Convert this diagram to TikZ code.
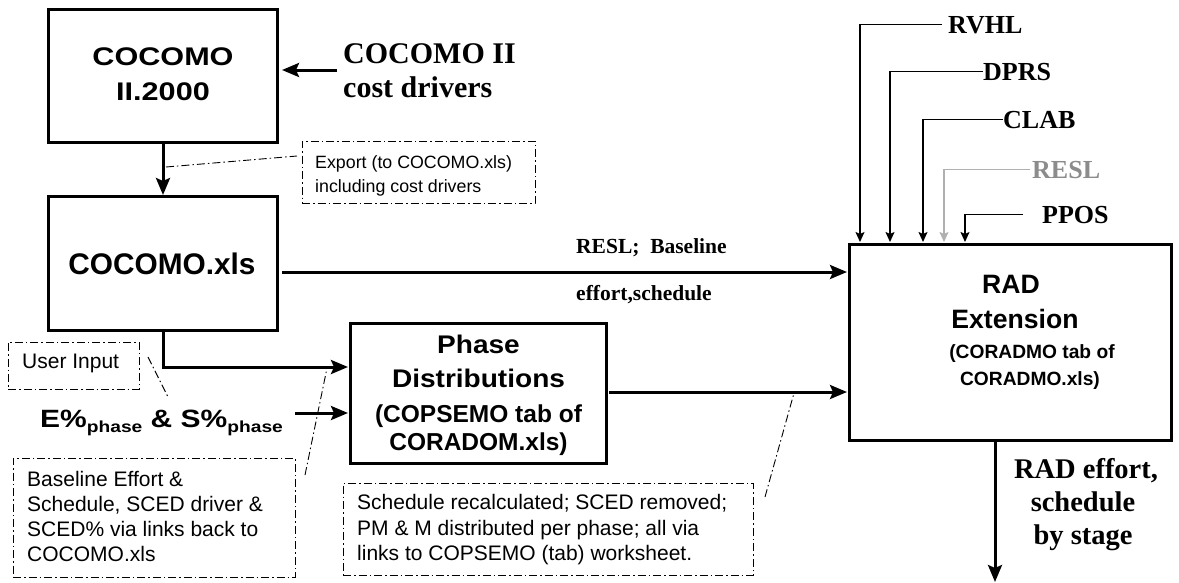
\documentclass[tikz,border=0pt]{standalone}
\usepackage{fontspec}
\setmainfont{Liberation Serif}
\newfontfamily\bxA[FakeStretch=1.2]{Liberation Sans}
\newfontfamily\bxB[FakeStretch=1.1]{Liberation Sans}
\newfontfamily\cff{Liberation Sans}
\usetikzlibrary{arrows.meta}
\newcommand{\fsz}[1]{\fontsize{#1}{#1}\selectfont}
\definecolor{lgray}{HTML}{B0B0B0}
\definecolor{tgray}{HTML}{8C8C8C}
\tikzset{
  box/.style={draw, line width=3pt, inner sep=0pt},
  bt/.style={anchor=base, inner sep=0pt, font=\cff\bfseries},
  st/.style={anchor=base west, inner sep=0pt, font=\bfseries},
  ct/.style={anchor=base west, inner sep=0pt, font=\cff\fsz{21}},
  callout/.style={draw, line width=0.9pt, dash pattern=on 8pt off 3pt on 1.5pt off 3pt, inner sep=0pt},
  lead/.style={line width=0.9pt, dash pattern=on 8pt off 3pt on 1.5pt off 3pt},
  main/.style={line width=3pt, -{Stealth[length=17pt,width=14pt,inset=3pt]}},
  feed/.style={line width=1.5pt, -{Stealth[length=10pt,width=9pt,inset=2pt]}},
}
\begin{document}
\begin{tikzpicture}[x=1pt,y=-1pt]
\useasboundingbox (0,0) rectangle (1179,582);

% boxes
\node[box, minimum width=229pt, minimum height=133pt] (c2) at (163,76) {};
\node[box, minimum width=229pt, minimum height=134pt] (cx) at (163,263.5) {};
\node[box, minimum width=256pt, minimum height=140pt] (ph) at (478.5,393.5) {};
\node[box, minimum width=322pt, minimum height=196pt] (rad) at (1010.5,342.5) {};

% box texts
\node[bt, font=\bxA\bfseries\fsz{25.5}] (c2a) at (163,65) {COCOMO};
\node[bt, font=\bxA\bfseries\fsz{25.5}] (c2b) at (163,100) {II.2000};
\node[bt, font=\cff\bfseries\fsz{29.8}] (cxa) at (162,274) {COCOMO.xls};
\node[bt, font=\bxB\bfseries\fsz{25.5}] (pha) at (478.5,353) {Phase};
\node[bt, font=\bxB\bfseries\fsz{25.5}] (phb) at (478.5,387) {Distributions};
\node[bt, font=\cff\bfseries\fsz{24.5}] (phc) at (478.5,422) {(COPSEMO tab of};
\node[bt, font=\cff\bfseries\fsz{24.5}] (phd) at (478.5,450) {CORADOM.xls)};
\node[bt, font=\cff\bfseries\fsz{26.6}] (rada) at (1011,293) {RAD};
\node[bt, font=\cff\bfseries\fsz{26.6}] (radb) at (1015,328) {Extension};
\node[bt, font=\cff\bfseries\fsz{19.2}] (radc) at (1032,358) {(CORADMO tab of};
\node[bt, font=\cff\bfseries\fsz{19.2}] (radd) at (1030,385) {CORADMO.xls)};

% serif labels
\node[st, font=\bfseries\fsz{30}] (cd1) at (343,63) {COCOMO II};
\node[st, font=\bfseries\fsz{30}] (cd2) at (343,97) {cost drivers};
\node[st, font=\bfseries\fsz{21.5}] (rb1) at (576,253) {RESL;\ \ Baseline};
\node[st, font=\bfseries\fsz{21.5}] (rb2) at (576,300) {effort,schedule};
\node[st, font=\bfseries\fsz{26}] (rvhl) at (948,33) {RVHL};
\node[st, font=\bfseries\fsz{26}] (dprs) at (983,80) {DPRS};
\node[st, font=\bfseries\fsz{26}] (clab) at (1003,128) {CLAB};
\node[st, font=\bfseries\fsz{26}, text=tgray] (resl) at (1032,178) {RESL};
\node[st, font=\bfseries\fsz{26}] (ppos) at (1042,223) {PPOS};
\node[anchor=base, inner sep=0pt, font=\bfseries\fsz{28.5}] (o1) at (1086,478) {RAD effort,};
\node[anchor=base, inner sep=0pt, font=\bfseries\fsz{28.5}] (o2) at (1083,511) {schedule};
\node[anchor=base, inner sep=0pt, font=\bfseries\fsz{28.5}] (o3) at (1083,544) {by stage};

% E% & S%
\node[anchor=base west, inner sep=0pt, font=\bxA\bfseries\fsz{25}] (es) at (40,427)
  {E\%\raisebox{-5pt}{\fsz{16}phase} \& S\%\raisebox{-5pt}{\fsz{16}phase}};

% callouts
\node[callout, minimum width=233pt, minimum height=62pt] (exp) at (418.5,172) {};
\node[ct, font=\cff\fsz{17.8}] (expa) at (315,168) {Export (to COCOMO.xls)};
\node[ct, font=\cff\fsz{17.8}] (expb) at (315,192) {including cost drivers};

\node[callout, minimum width=131pt, minimum height=47pt] (usr) at (73.5,365.5) {};
\node[ct] (usra) at (22,368) {User Input};

\node[callout, minimum width=282pt, minimum height=119pt] (bas) at (154,517.5) {};
\node[ct] (basa) at (27,486) {Baseline Effort \&};
\node[ct] (basb) at (27,511) {Schedule, SCED driver \&};
\node[ct] (basc) at (27,536) {SCED\% via links back to};
\node[ct] (basd) at (27,561) {COCOMO.xls};

\node[callout, minimum width=410pt, minimum height=92pt] (sch) at (548,529) {};
\node[ct] (scha) at (357,509) {Schedule recalculated; SCED removed;};
\node[ct] (schb) at (357,535) {PM \& M distributed per phase; all via};
\node[ct] (schc) at (357,560) {links to COPSEMO (tab) worksheet.};

% coordinates
\coordinate (cdstart) at (337,70);
\coordinate (ry1) at (0,272);
\coordinate (ry2) at (0,367);
\coordinate (esstart) at (295,413);
\coordinate (outend) at (995,582);
\coordinate (e1) at (166,167); \coordinate (e2) at (297,156);
\coordinate (u1) at (148,357); \coordinate (u2) at (168,397);
\coordinate (b1) at (305,475); \coordinate (b2) at (327,368);
\coordinate (s1) at (765,497); \coordinate (s2) at (794,393);

% main connectors
\draw[main] (cdstart) -- ([xshift=3pt]c2.east |- cdstart);
\draw[main] (c2.south) -- (cx.north);
\draw[main] ([xshift=3pt]cx.east |- ry1) -- ([xshift=-1pt]rad.west |- ry1);
\draw[main] (cx.south) |- ([xshift=-1pt]ph.west |- ry2);
\draw[main] (esstart) -- ([xshift=-1pt]ph.west |- esstart);
\draw[main] ([xshift=1pt]ph.east |- 0,392) -- ([xshift=-1pt]rad.west |- 0,392);
\draw[main] ([xshift=-15.5pt]rad.south) -- (outend);

% feeders
\draw[feed] ([xshift=-6pt]rvhl.west) -| ([xshift=12pt,yshift=1pt]rad.north west);
\draw[feed] (dprs.west) -| ([xshift=42pt,yshift=1pt]rad.north west);
\draw[feed] (clab.west) -| ([xshift=75pt,yshift=1pt]rad.north west);
\draw[feed, color=lgray] ([xshift=-2pt]resl.west) -| ([xshift=96pt,yshift=1pt]rad.north west);
\draw[feed] ([xshift=-19pt]ppos.west) -| ([xshift=117pt,yshift=1pt]rad.north west);

% leaders
\draw[lead] (e1) -- (e2);
\draw[lead] (u1) -- (u2);
\draw[lead] (b1) -- (b2);
\draw[lead] (s1) -- (s2);
\end{tikzpicture}
\end{document}
